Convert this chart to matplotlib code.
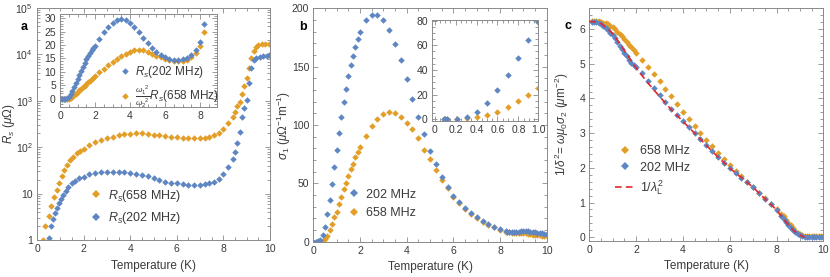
import numpy as np
import matplotlib
matplotlib.use('Agg')
import matplotlib.pyplot as plt
from matplotlib.ticker import MultipleLocator, FixedLocator, LogLocator, NullFormatter
from matplotlib.lines import Line2D

plt.rcParams.update({'font.family': 'Liberation Sans',
                     'mathtext.fontset': 'custom',
                     'mathtext.rm': 'Liberation Sans',
                     'mathtext.it': 'Liberation Sans:italic',
                     'mathtext.bf': 'Liberation Sans:bold',
                     'font.size': 7.5})

BLUE = '#5D86C3'
ORANGE = '#E29E27'
RED = '#E0292E'
FRAME = '#8a8a8a'
TXT = '#3a3a3a'

# ---------------- panel a: surface resistance (log) ----------------
T_a658 = [0.25, 0.34, 0.5, 0.6, 0.72, 0.86, 0.96, 1.06, 1.17, 1.27, 1.42, 1.56, 1.7, 1.85,
          2.0, 2.25, 2.5, 2.75, 3.0, 3.25, 3.5, 3.75, 4.0, 4.25, 4.5, 4.75, 5.0, 5.25, 5.5,
          5.75, 6.0, 6.25, 6.5, 6.75, 7.0, 7.2, 7.4, 7.6, 7.8, 8.0, 8.2, 8.4, 8.5, 8.6, 8.7,
          8.8, 8.9, 9.0, 9.1, 9.2, 9.3, 9.4, 9.5, 9.65, 9.8, 9.95]
Rs658 = [1.0, 2.0, 3.3, 5.5, 8.5, 12, 17, 24, 32, 42, 53, 63, 74, 83,
         90, 112, 128, 143, 157, 168, 180, 190, 196, 199, 198, 193, 187, 180, 173,
         167, 162, 159, 156, 155, 155, 156, 166, 180, 205, 245, 325, 440, 580, 780, 950,
         1400, 2100, 3100, 5000, 8500, 12000, 14500, 15900, 16500, 16600, 16800]

T_a202 = [0.53, 0.6, 0.68, 0.77, 0.86, 0.95, 1.04, 1.13, 1.23, 1.34, 1.49, 1.63, 1.8,
          2.0, 2.25, 2.5, 2.75, 3.0, 3.25, 3.5, 3.75, 4.0, 4.25, 4.5, 4.75, 5.0, 5.25, 5.5,
          5.75, 6.0, 6.25, 6.5, 6.75, 7.0, 7.2, 7.4, 7.6, 7.8, 8.0, 8.2, 8.4, 8.5, 8.6, 8.7,
          8.8, 8.9, 9.0, 9.1, 9.2, 9.3, 9.4, 9.55, 9.7, 9.85, 9.95]
Rs202 = [1.1, 2.0, 2.9, 3.9, 5.0, 6.2, 7.5, 9.3, 11.5, 14.1, 16.6, 19, 21.4,
         23, 26.2, 27.8, 29, 29.6, 29.8, 29.6, 29, 28, 26.8, 25.4, 23.4, 21.4, 19.6, 18.2,
         17.2, 16.6, 16.0, 15.6, 15.4, 15.3, 15.8, 16.6, 18, 20.6, 27, 38, 55, 80, 121, 215,
         455, 700, 1050, 2400, 5200, 7600, 8500, 8900, 9200, 9400, 9700]

# inset a
T_ia = [0.0, 0.1, 0.2, 0.3, 0.4, 0.5, 0.6, 0.7, 0.8, 0.9, 1.0, 1.1, 1.2, 1.3, 1.4, 1.5,
        1.6, 1.7, 1.8, 1.9, 2.0, 2.25, 2.5, 2.75, 3.0, 3.25, 3.5, 3.75, 4.0, 4.25, 4.5,
        4.75, 5.0, 5.25, 5.5, 5.75, 6.0, 6.25, 6.5, 6.75, 7.0, 7.25, 7.5, 7.75, 8.0, 8.25]
ins_Rs202 = [0, 0, 0, 0, 0.2, 0.8, 1.8, 3.0, 4.4, 5.9, 7.5, 9.0, 10.5, 12.0, 13.4, 14.7,
             15.9, 17.0, 18.0, 18.9, 19.7, 22.3, 24.7, 26.9, 28.4, 29.4, 29.8, 29.4, 28.4,
             26.8, 24.8, 22.8, 20.8, 19.0, 17.5, 16.3, 15.4, 14.9, 14.6, 14.6, 14.8, 15.3,
             16.3, 18.0, 21.0, 28.0]
ins_Rs658 = [0, 0, 0, 0, 0, 0, 0.3, 0.8, 1.3, 1.9, 2.5, 3.1, 3.7, 4.3, 4.9, 5.5,
             6.1, 6.7, 7.3, 7.9, 8.5, 9.9, 11.2, 12.5, 13.7, 14.8, 15.9, 16.8, 17.5,
             18.0, 18.2, 18.0, 17.5, 16.8, 16.1, 15.4, 14.8, 14.3, 14.0, 13.9, 14.0, 14.5,
             15.4, 17.0, 19.5, 25.0]

# ---------------- panel b: sigma_1 ----------------
T_b = [0.0, 0.1, 0.2, 0.3, 0.4, 0.5, 0.6, 0.7, 0.8, 0.9, 1.0, 1.1, 1.2, 1.3, 1.4, 1.5,
       1.6, 1.7, 1.8, 1.9, 2.0, 2.25, 2.5, 2.75, 3.0, 3.25, 3.5, 3.75, 4.0, 4.25, 4.5,
       4.75, 5.0, 5.25, 5.5, 5.75, 6.0, 6.25, 6.5, 6.75, 7.0, 7.25, 7.5, 7.75, 8.0, 8.25,
       8.3, 8.4, 8.5, 8.6, 8.7, 8.8, 8.9, 9.0, 9.1, 9.2, 9.3, 9.4, 9.5, 9.6, 9.7, 9.8,
       9.9, 10.0]
sig202 = [0, 0, 0.3, 1.6, 5.6, 12.9, 23.6, 35.7, 49.7, 63.9, 78.7, 93.4, 106.6, 120, 131,
          142, 151.4, 159.4, 167, 174, 179.4, 190, 194, 194, 190, 181, 169, 155.7, 139.4,
          122.3, 107, 92, 77.7, 66.3, 55.7, 46.6, 39.4, 33.7, 28.6, 24.3, 20.9, 17.7, 14.9,
          12.9, 10.6, 9.1, 8.7, 8.3, 8.1, 8.1, 8.3, 8.7, 9.2, 9.5, 9.3, 8.9, 8.5, 8.2, 7.9,
          7.6, 7.4, 7.2, 7.0, 6.9]
sig658 = [0, 0, 0, 0.5, 1.0, 2.0, 4.9, 10, 15.1, 20.9, 25.7, 32.3, 38.6, 44.9, 50.6,
          56.6, 62, 67, 72.9, 77, 81.4, 90.6, 99, 105, 109, 111.4, 110.6, 107, 102, 96.6,
          88.6, 79, 70.6, 61.4, 52.9, 45.7, 38.6, 33, 28, 23.8, 20.3, 17.2, 14.4, 12.3,
          10.2, 8.7, 8.3, 7.9, 7.6, 7.4, 7.3, 7.3, 7.4, 7.5, 7.2, 6.8, 6.4, 6.1, 5.9, 5.7,
          5.5, 5.3, 5.2, 5.1]

# inset b
T_ib = [0.085, 0.1, 0.115, 0.21, 0.31, 0.4, 0.5, 0.6, 0.7, 0.8, 0.89, 0.99]
ins_sig202 = [0, 0, 0, 0, 1.6, 5.6, 12.9, 23.6, 35.7, 49.7, 63.9, 78.7]
ins_sig658 = [0, 0, 0, 0, 0.8, 2.1, 3.5, 6.2, 9.7, 15.0, 19.6, 25.8]

# ---------------- panel c: 1/delta^2 ----------------
T_c = [0.1, 0.2, 0.3, 0.4, 0.5, 0.6, 0.7, 0.8, 0.9, 1.0, 1.1, 1.2, 1.3, 1.4, 1.5, 1.6,
       1.7, 1.8, 1.9, 2.0, 2.25, 2.5, 2.75, 3.0, 3.25, 3.5, 3.75, 4.0, 4.25, 4.5, 4.75,
       5.0, 5.25, 5.5, 5.75, 6.0, 6.25, 6.5, 6.75, 7.0, 7.25, 7.5, 7.75, 8.0, 8.2, 8.3,
       8.4, 8.5, 8.6, 8.7, 8.8, 8.9, 9.0, 9.1, 9.2, 9.3, 9.4, 9.5, 9.6, 9.7, 9.8, 9.9, 10.0]
d658 = [6.22, 6.23, 6.23, 6.22, 6.21, 6.19, 6.17, 6.14, 6.1, 6.05, 6.0, 5.93, 5.87, 5.8,
        5.72, 5.63, 5.55, 5.47, 5.39, 5.3, 5.1, 4.9, 4.7, 4.49, 4.28, 4.07, 3.85, 3.62,
        3.4, 3.2, 3.0, 2.81, 2.63, 2.44, 2.25, 2.08, 1.92, 1.76, 1.6, 1.44, 1.28, 1.12,
        0.97, 0.82, 0.68, 0.6, 0.5, 0.42, 0.34, 0.26, 0.19, 0.13, 0.09, 0.06, 0.04, 0.03,
        0.03, 0.03, 0.03, 0.03, 0.03, 0.03, 0.03]
d202 = [6.2, 6.21, 6.2, 6.18, 6.15, 6.1, 6.04, 5.97, 5.9, 5.83, 5.73, 5.63, 5.52, 5.42,
        5.32, 5.22, 5.12, 5.03, 4.96, 4.9, 4.73, 4.5, 4.3, 4.1, 3.89, 3.7, 3.53, 3.36,
        3.18, 3.0, 2.82, 2.65, 2.48, 2.31, 2.15, 2.0, 1.86, 1.72, 1.59, 1.44, 1.27, 1.11,
        0.95, 0.79, 0.62, 0.53, 0.44, 0.35, 0.28, 0.21, 0.15, 0.1, 0.06, 0.04, 0.02, 0.01,
        0.0, 0.0, 0.0, 0.0, 0.0, 0.0, 0.0]
T_lam = [0.0, 0.25, 0.5, 0.75, 1.0, 1.25, 1.5, 1.75, 2.0, 2.5, 3.0, 3.5, 4.0, 4.5, 5.0,
         5.5, 6.0, 6.5, 7.0, 7.5, 8.0, 8.25, 8.5, 8.75, 9.0, 9.2]
lam = [6.22, 6.21, 6.16, 6.03, 5.87, 5.63, 5.38, 5.13, 4.88, 4.45, 4.06, 3.68, 3.34, 3.0,
       2.65, 2.31, 1.99, 1.72, 1.44, 1.11, 0.79, 0.57, 0.36, 0.18, 0.06, 0.0]


def style(ax, xmaj, xmin, ymaj=None, ymin=None, log=False):
    for s in ax.spines.values():
        s.set_color(FRAME)
        s.set_linewidth(0.7)
    ax.xaxis.set_major_locator(MultipleLocator(xmaj))
    ax.xaxis.set_minor_locator(MultipleLocator(xmin))
    if not log:
        ax.yaxis.set_major_locator(MultipleLocator(ymaj))
        ax.yaxis.set_minor_locator(MultipleLocator(ymin))
    ax.tick_params(which='both', direction='in', top=True, right=True,
                   color=FRAME, width=0.6, labelcolor=TXT, pad=3)
    ax.tick_params(which='major', length=3.5)
    ax.tick_params(which='minor', length=2)


mk = dict(marker='D', ms=3.3, mew=0, ls='none')

fig = plt.figure(figsize=(8.3, 2.77), dpi=100)

# ---- a ----
axa = fig.add_axes([37/830, 37/277, 233/830, 232/277])
axa.plot(T_a658, Rs658, color=ORANGE, **mk)
axa.plot(T_a202, Rs202, color=BLUE, **mk)
axa.set_yscale('log')
axa.set_xlim(0, 10)
axa.set_ylim(1, 1e5)
style(axa, 2, 0.5, log=True)
axa.yaxis.set_major_locator(FixedLocator([1, 10, 100, 1e3, 1e4, 1e5]))
axa.set_yticklabels(['1', '10', '$10^2$', '$10^3$', '$10^4$', '$10^5$'])
axa.yaxis.set_minor_locator(LogLocator(base=10, subs=np.arange(2, 10)))
axa.yaxis.set_minor_formatter(NullFormatter())
axa.set_xlabel('Temperature (K)', fontsize=8.5, color=TXT, labelpad=4)
axa.set_ylabel(r'$R_s$ ($\mu\Omega$)', fontsize=8.5, color=TXT)
axa.yaxis.set_label_coords(-0.085, 0.5)
axa.legend(handles=[Line2D([], [], color=ORANGE, **mk), Line2D([], [], color=BLUE, **mk)],
           labels=[r'$R_s$(658 MHz)', r'$R_s$(202 MHz)'], loc='center left',
           bbox_to_anchor=(78/830, 1 - 207/277), bbox_transform=fig.transFigure,
           frameon=False, fontsize=9, handlelength=1.0, handletextpad=0.5,
           labelspacing=0.55, labelcolor=TXT, markerscale=1.1)
fig.text(24/830, 1 - 27/277, 'a', fontsize=9, fontweight='bold', ha='center', va='center')

ia = fig.add_axes([60/830, 1 - 107/277, 157/830, 93/277])
ia.plot(T_ia, ins_Rs658, color=ORANGE, **mk)
ia.plot(T_ia, ins_Rs202, color=BLUE, **mk)
ia.set_xlim(0, 8.97)
ia.set_ylim(-3.1, 31.6)
style(ia, 2, 0.5, 5, 1)
ia.legend(handles=[Line2D([], [], color=BLUE, **mk), Line2D([], [], color=ORANGE, **mk)],
          labels=[r'$R_s$(202 MHz)', r'$\frac{\omega_1{}^2}{\omega_2{}^2}R_s$(658 MHz)'],
          loc='center left', bbox_to_anchor=(108/830, 1 - 87/277),
          bbox_transform=fig.transFigure, frameon=False, fontsize=8.5,
          handlelength=1.0, handletextpad=0.4, labelspacing=0.3, labelcolor=TXT)

# ---- b ----
axb = fig.add_axes([313.3/830, 35.3/277, 233.4/830, 233.4/277])
axb.plot(T_b, sig658, color=ORANGE, **mk)
axb.plot(T_b, sig202, color=BLUE, **mk)
axb.set_xlim(0, 10)
axb.set_ylim(0, 200)
style(axb, 2, 0.5, 50, 10)
axb.set_xlabel('Temperature (K)', fontsize=8.5, color=TXT, labelpad=4)
axb.set_ylabel(r'$\sigma_1$ ($\mu\Omega^{-1}$m$^{-1}$)', fontsize=8.5, color=TXT)
axb.yaxis.set_label_coords(-0.088, 0.5)
axb.legend(handles=[Line2D([], [], color=BLUE, **mk), Line2D([], [], color=ORANGE, **mk)],
           labels=['202 MHz', '658 MHz'], loc='center left',
           bbox_to_anchor=(336/830, 1 - 204/277), bbox_transform=fig.transFigure,
           frameon=False, fontsize=9, handlelength=1.0, handletextpad=0.5,
           labelspacing=0.55, labelcolor=TXT, markerscale=1.1)
fig.text(303/830, 1 - 27/277, 'b', fontsize=9, fontweight='bold', ha='center', va='center')

ib = fig.add_axes([432/830, 1 - 120.7/277, 106.3/830, 100.7/277])
ib.plot(T_ib, ins_sig658, color=ORANGE, **mk)
ib.plot(T_ib, ins_sig202, color=BLUE, **mk)
ib.set_xlim(-0.026, 0.99)
ib.set_ylim(-1.1, 80.5)
style(ib, 0.2, 0.05, 20, 5)
ib.set_xticks([0, 0.2, 0.4, 0.6, 0.8, 0.99])
ib.set_xticklabels(['0', '0.2', '0.4', '0.6', '0.8', '1.0'])

# ---- c ----
axc = fig.add_axes([589.3/830, 36.3/277, 234/830, 232.4/277])
axc.plot(T_c, d658, color=ORANGE, **mk)
axc.plot(T_c, d202, color=BLUE, **mk)
axc.plot(T_lam, lam, color=RED, lw=1.2, ls=(0, (4, 2.5)), zorder=3)
axc.set_xlim(0, 10)
axc.set_ylim(-0.1, 6.6)
style(axc, 2, 0.5, 1, 0.2)
axc.set_xlabel('Temperature (K)', fontsize=8.5, color=TXT, labelpad=4)
axc.set_ylabel(r'1/$\delta^2$= $\omega\mu_0\sigma_2$ ($\mu$m$^{-2}$)', fontsize=8.5, color=TXT)
axc.yaxis.set_label_coords(-0.078, 0.5)
axc.legend(handles=[Line2D([], [], color=ORANGE, **mk), Line2D([], [], color=BLUE, **mk),
                    Line2D([], [], color=RED, lw=1.2, ls=(0, (4, 2.5)))],
           labels=['658 MHz', '202 MHz', r'1/$\lambda_{\mathrm{L}}^2$'], loc='center left',
           bbox_to_anchor=(604/830, 1 - 171/277), bbox_transform=fig.transFigure,
           frameon=False, fontsize=9, handlelength=1.6, handletextpad=0.4,
           labelspacing=0.35, labelcolor=TXT, markerscale=1.1)
fig.text(568/830, 1 - 26/277, 'c', fontsize=9, fontweight='bold', ha='center', va='center')

fig.savefig('out.png', dpi=100)
